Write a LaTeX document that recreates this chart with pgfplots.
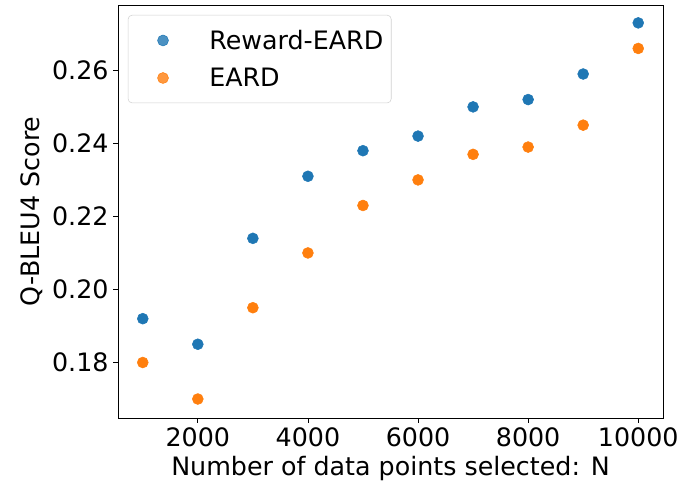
\documentclass[border=0pt]{standalone}
\usepackage{pgfplots}
\pgfplotsset{compat=1.18}
\usepackage{fontspec}
\setmainfont{DejaVu Sans}
\definecolor{tabblue}{HTML}{1F77B4}
\definecolor{taborange}{HTML}{FF7F0E}

\begin{document}
\begin{tikzpicture}
\useasboundingbox (0pt,0pt) rectangle (510pt,364.5pt);
\begin{axis}[
  at={(88.5pt,51pt)}, anchor=south west,
  scale only axis=true,
  width=408.75pt, height=309.75pt,
  xmin=550, xmax=10450,
  ymin=0.1648, ymax=0.2779,
  xtick={2000,4000,6000,8000,10000},
  ytick={0.18,0.20,0.22,0.24,0.26},
  yticklabel style={/pgf/number format/.cd,fixed,fixed zerofill,precision=2},
  xticklabel style={/pgf/number format/.cd,set thousands separator={},fixed},
  scaled ticks=false,
  /pgf/number format/assume math mode=true,
  tick align=outside,
  tick pos=left,
  major tick length=3.6pt,
  tick style={black, line width=0.6pt},
  axis line style={line width=0.6pt},
  ticklabel style={font=\fontsize{19}{22}\selectfont},
  label style={font=\fontsize{19}{22}\selectfont},
  xlabel={Number of data points selected: N},
  ylabel={Q-BLEU4 Score},
  legend style={
    at={(0.018,0.976)}, anchor=north west,
    font=\fontsize{19}{22}\selectfont,
    draw=black!18, rounded corners=3pt, fill=white, fill opacity=0.8, text opacity=1,
    inner xsep=4pt, inner ysep=9pt,
    row sep=8.5pt,
  },
  legend cell align=left,
  legend image code/.code={%
    \path[draw=none,fill=none] (0cm,0cm) -- (1.93cm,0cm);
    \draw[#1] plot coordinates {(0.78cm,0cm)};},
]
\addplot[only marks, mark=*, mark size=4.1pt, color=tabblue] coordinates {
  (1000,0.192) (2000,0.185) (3000,0.214) (4000,0.231) (5000,0.238)
  (6000,0.242) (7000,0.250) (8000,0.252) (9000,0.259) (10000,0.273)
};
\addlegendentry{Reward-EARD}
\addplot[only marks, mark=*, mark size=4.1pt, color=taborange] coordinates {
  (1000,0.180) (2000,0.170) (3000,0.195) (4000,0.210) (5000,0.223)
  (6000,0.230) (7000,0.237) (8000,0.239) (9000,0.245) (10000,0.266)
};
\addlegendentry{EARD}
\end{axis}
\end{tikzpicture}
\end{document}
